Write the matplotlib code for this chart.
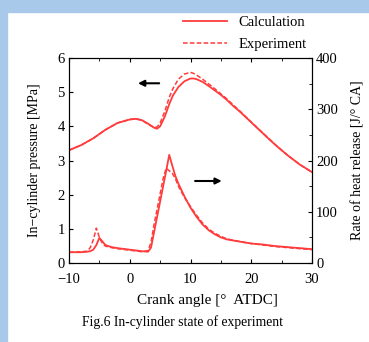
import matplotlib
matplotlib.use('Agg')
import matplotlib.pyplot as plt
from matplotlib.patches import Rectangle
from matplotlib.lines import Line2D

plt.rcParams['font.family'] = ['Liberation Serif', 'DejaVu Serif']

# in-cylinder pressure [MPa]
p_x = [-10, -8, -6, -4, -2, 0, 1, 2, 3, 4, 4.5, 5, 5.8, 6.5, 7.1, 8, 9, 10,
       10.5, 11, 12, 13, 14, 15, 16, 17, 18, 19.8, 22, 24, 26, 28, 30]
p_calc = [3.3, 3.45, 3.65, 3.9, 4.1, 4.2, 4.22, 4.18, 4.08, 3.96, 3.93, 4.0,
          4.3, 4.65, 4.9, 5.15, 5.32, 5.4, 5.4, 5.38, 5.3, 5.18, 5.05, 4.92,
          4.77, 4.6, 4.45, 4.15, 3.78, 3.45, 3.15, 2.88, 2.66]
p_exp = [3.3, 3.45, 3.65, 3.9, 4.1, 4.2, 4.22, 4.18, 4.06, 3.97, 3.98, 4.1,
         4.45, 4.85, 5.1, 5.38, 5.53, 5.58, 5.55, 5.5, 5.38, 5.24, 5.1, 4.95,
         4.8, 4.63, 4.47, 4.16, 3.79, 3.46, 3.15, 2.88, 2.66]

# rate of heat release [J/deg CA]
q_x = [-10, -8, -7, -6.5, -6, -5.5, -5, -4.5, -4, -3, -2, 0, 2, 3, 3.5, 4,
       4.5, 5, 5.5, 6, 6.5, 7, 7.5, 8, 9, 10, 11, 12, 13, 14, 15, 16, 18, 20,
       22, 24, 26, 28, 30]
q_calc = [21, 21, 22, 23, 26, 35, 49, 42, 35, 31, 29, 26, 23, 22, 30, 60, 90,
          120, 150, 180, 211, 190, 170, 155, 130, 108, 90, 75, 64, 56, 50, 46,
          42, 38, 36, 33, 31, 29, 27]
q_exp = [21, 22, 23, 30, 45, 68, 50, 38, 33, 30, 28, 25, 22, 24, 40, 75, 105,
         135, 165, 185, 180, 175, 165, 150, 128, 110, 93, 78, 66, 58, 52, 47,
         42, 38, 35, 32, 30, 28, 26]

red = '#ff3b3b'

fig = plt.figure(figsize=(3.69, 3.42), dpi=100)
fig.patch.set_facecolor('white')
# light blue frame of the screenshot
fig.patches.append(Rectangle((0, 1 - 12 / 342), 1, 12 / 342, transform=fig.transFigure,
                             color='#a9c9ea', zorder=0))
fig.patches.append(Rectangle((0, 0), 7 / 369, 1, transform=fig.transFigure,
                             color='#a9c9ea', zorder=0))

ax = fig.add_axes([69 / 369, 79 / 342, 243 / 369, 205 / 342])
ax2 = ax.twinx()

ax.plot(p_x, p_calc, color=red, lw=1.3)
ax.plot(p_x, p_exp, color=red, lw=1.1, ls=(0, (3, 1.5)))
ax2.plot(q_x, q_calc, color=red, lw=1.3)
ax2.plot(q_x, q_exp, color=red, lw=1.1, ls=(0, (3, 1.5)))

ax.set_xlim(-10, 30)
ax.set_ylim(0, 6)
ax2.set_ylim(0, 400)
ax.set_xticks([-10, 0, 10, 20, 30])
ax.set_xticks([-5, 5, 15, 25], minor=True)
ax.set_yticks(range(7))
ax2.set_yticks([0, 100, 200, 300, 400])
ax2.set_yticks([50, 150, 250, 350], minor=True)

ax.tick_params(direction='in', top=True, labelsize=10.5, length=3, pad=3)
ax.tick_params(axis='x', pad=7)
ax.tick_params(which='minor', direction='in', top=True, length=2)
ax.tick_params(axis='y', right=False)
ax2.tick_params(direction='in', labelsize=10.5, length=3, pad=3)
ax2.tick_params(which='minor', direction='in', length=2)

ax.set_xlabel('Crank angle [\u00b0  ATDC]', fontsize=11)
ax.xaxis.set_label_coords(0.568, -0.15)
ax.set_ylabel('In\u2212cylinder pressure [MPa]', fontsize=10)
ax.yaxis.set_label_coords(-0.115, 0.5)
ax2.set_ylabel('Rate of heat release [J/\u00b0 CA]', fontsize=10)
ax2.yaxis.set_label_coords(1.16, 0.5)

# direction arrows
ax.annotate('', xy=(0.9, 5.26), xytext=(5.3, 5.26),
            arrowprops=dict(arrowstyle='-|>', color='black', lw=1.5, mutation_scale=9))
ax2.annotate('', xy=(15.6, 160), xytext=(10.3, 160),
             arrowprops=dict(arrowstyle='-|>', color='black', lw=1.5, mutation_scale=9))

handles = [Line2D([], [], color=red, lw=1.3),
           Line2D([], [], color=red, lw=1.1, ls=(0, (3, 1.5)))]
fig.legend(handles, ['Calculation', 'Experiment'], loc='upper left',
           bbox_to_anchor=(170 / 369, 1 - 3 / 342), frameon=False, fontsize=10.5,
           handlelength=3.0, labelspacing=0.6, handletextpad=0.8)

fig.text(183 / 369, 1 - 322 / 342, 'Fig.6 In-cylinder state of experiment',
         ha='center', va='center', fontsize=9.8)

fig.savefig('out.png', dpi=100)
